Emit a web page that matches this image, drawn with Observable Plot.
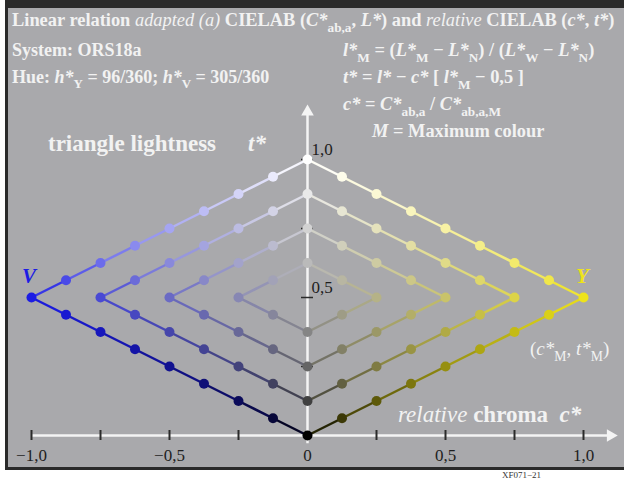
<!DOCTYPE html>
<html>
<head>
<meta charset="utf-8">
<script src="https://cdn.jsdelivr.net/npm/d3@7"></script>
<script src="https://cdn.jsdelivr.net/npm/@observablehq/plot@0.6"></script>
<style>
  html, body { margin: 0; padding: 0; background: #ffffff; }
  #wrap { position: relative; width: 624px; height: 479px; overflow: hidden; }
  #frame { position: absolute; left: 5px; top: 0; width: 619px; height: 470px; box-sizing: border-box;
           background: #a9a9ac; border-top: 8px solid #2a2a2a; border-left: 3px solid #2a2a2a; border-bottom: 3px solid #2a2a2a; }
  #wrap svg { position: absolute; left: 0; top: 0; }
</style>
</head>
<body>
<div id="wrap"><div id="frame"></div></div>
<script>
// ---- data ----
const hueNames = ["V", "Y"];
const hueSigns = [-1, 1];
const hueColors = ["#1c1ce4", "#eee31a"];
const chromaSteps = [0, 0.125, 0.25, 0.375, 0.5, 0.625, 0.75, 0.875, 1];
const diamondChroma = [0.25, 0.5, 0.75, 1];
const xTicks = [-1, -0.75, -0.5, -0.25, 0.25, 0.5, 0.75, 1];
const xLabels = [-1, -0.5, 0, 0.5, 1];
const yTicks = [0.25, 0.5, 0.75, 1];
const yLabels = [0.5, 1];
const xAxisExtent = [-1, 1.105];
const yAxisExtent = [-0.03, 1.18];
const midT = 0.5;

// ---- colours: mix of black, white and maximum colour (gamma-weighted RGB) ----
const G = 1.5;
const maxRgb = hueColors.map(c => d3.rgb(c));
function colourAt(h, c, t) {
  const M = maxRgb[h];
  const w = Math.max(0, t - c / 2);
  const ch = v => 255 * Math.pow(w + c * Math.pow(v / 255, G), 1 / G);
  return d3.rgb(ch(M.r), ch(M.g), ch(M.b)).formatHex();
}

// ---- build points and segments ----
const points = [];
const segs = [];
const seen = new Set();
diamondChroma.forEach(s => {
  hueSigns.forEach((sign, h) => {
    [1, -1].forEach(dir => {
      const edge = chromaSteps.filter(c => c <= s + 1e-9).map(c => {
        const t = midT + dir * (s - c) / 2;
        return {x: sign * c, c, t, h, fill: colourAt(h, c, t)};
      });
      edge.forEach(p => {
        const key = p.x.toFixed(4) + "|" + p.t.toFixed(4);
        if (!seen.has(key)) { seen.add(key); points.push(p); }
      });
      for (let i = 0; i < edge.length - 1; i++) {
        const a = edge[i], b = edge[i + 1];
        segs.push({x1: a.x, y1: a.t, x2: b.x, y2: b.t,
                   stroke: colourAt(h, (a.c + b.c) / 2, (a.t + b.t) / 2)});
      }
    });
  });
});

const fmt = v => v === 0 ? "0" : (v < 0 ? "−" : "") + Math.abs(v).toFixed(1).replace(".", ",");
const serif = "'Liberation Serif', 'Times New Roman', serif";

const svg = Plot.plot({
  width: 624, height: 479, margin: 0,
  x: {domain: [-1, 1], range: [31, 583], axis: null},
  y: {domain: [0, 1], range: [435, 159], axis: null},
  style: {background: "transparent", overflow: "visible"},
  marks: [
    Plot.ruleY([0], {x1: xAxisExtent[0], x2: xAxisExtent[1], stroke: "#f4f4f4", strokeWidth: 2.5}),
    Plot.ruleX([0], {y1: yAxisExtent[0], y2: yAxisExtent[1], stroke: "#f4f4f4", strokeWidth: 2.5}),
    Plot.dot([{x: xAxisExtent[1], y: 0}], {x: "x", y: "y", symbol: "triangle2", rotate: 90, r: 6, fill: "#f4f4f4", dx: -2}),
    Plot.dot([{x: 0, y: yAxisExtent[1]}], {x: "x", y: "y", symbol: "triangle2", r: 6, fill: "#f4f4f4", dy: 2}),
    Plot.ruleX(xTicks, {x: d => d, y1: 0, y2: 0, insetTop: -5, insetBottom: -5, stroke: "#2a2a2a", strokeWidth: 2}),
    Plot.ruleY(yTicks, {y: d => d, x1: 0, x2: 0, insetLeft: -6, insetRight: -6, stroke: "#2a2a2a", strokeWidth: 1.5}),
    Plot.link(segs, {x1: "x1", y1: "y1", x2: "x2", y2: "y2", stroke: "stroke", strokeWidth: 2.5}),
    Plot.dot(points, {x: "x", y: "t", fill: "fill", r: 5}),
    Plot.text(xLabels, {x: d => d, y: 0, text: fmt, dy: 20, fontSize: 17, fill: "#1e1e1e", fontFamily: serif}),
    Plot.text(yLabels, {x: 0, y: d => d, text: fmt, dx: 4, dy: -10, textAnchor: "start", fontSize: 17, fill: "#1e1e1e", fontFamily: serif})
  ]
});
document.getElementById("wrap").appendChild(svg);

// ---- rich text ----
const S = d3.select(svg);
function rich(x, y, parts, {size = 18, fill = "#f2f2f2", weight = "bold", anchor = "start"} = {}) {
  const t = S.append("text").attr("x", x).attr("y", y)
    .attr("font-family", serif)
    .attr("font-size", size).attr("font-weight", weight).attr("fill", fill).attr("text-anchor", anchor);
  let shift = 0;
  for (const p of parts) {
    const [s, f] = Array.isArray(p) ? p : [p, ""];
    const ts = t.append("tspan").text(s);
    if (f.includes("i")) ts.attr("font-style", "italic");
    if (f.includes("n")) ts.attr("font-weight", "normal");
    const target = f.includes("s") ? size * 0.3 : 0;
    if (target !== shift) { ts.attr("dy", target - shift); shift = target; }
    if (f.includes("s")) ts.attr("font-size", size * 0.72);
  }
}
rich(12, 26, ["Linear relation ", ["adapted (a)", "in"], " CIELAB (", ["C*", "i"], ["ab,a", "s"], ", ", ["L*", "i"], ") and ",
  ["relative", "in"], " CIELAB (", ["c*", "i"], ", ", ["t*", "i"], ")"], {size: 18.4});
rich(12, 56, ["System: ORS18a"]);
rich(12, 83, ["Hue: ", ["h*", "i"], ["Y", "s"], " = 96/360; ", ["h*", "i"], ["V", "s"], " = 305/360"]);
rich(343, 56, [["l*", "i"], ["M", "s"], " = (", ["L*", "i"], ["M", "s"], " − ", ["L*", "i"], ["N", "s"], ") / (",
  ["L*", "i"], ["W", "s"], " − ", ["L*", "i"], ["N", "s"], ")"], {size: 18.4});
rich(343, 83, [["t*", "i"], " = ", ["l*", "i"], " − ", ["c*", "i"], " [ ", ["l*", "i"], ["M", "s"], " − 0,5 ]"], {size: 18.4});
rich(343, 110, [["c*", "i"], " = ", ["C*", "i"], ["ab,a", "s"], " / ", ["C*", "i"], ["ab,a,M", "s"]], {size: 18.4});
rich(372, 137, [["M", "i"], " = Maximum colour"], {size: 18.4});
rich(48, 151, ["triangle lightness"], {size: 23});
rich(248, 151, [["t*", "i"]], {size: 23});
rich(398, 422, [["relative", "in"], " chroma  ", ["c*", "i"]], {size: 23});
rich(530, 355, ["(", ["c*", "i"], ["M", "s"], ", ", ["t*", "i"], ["M", "s"], ")"], {size: 19, weight: "normal"});
rich(22, 283, [["V", "i"]], {size: 21, fill: hueColors[0]});
rich(576, 283, [["Y", "i"]], {size: 21, fill: hueColors[1]});
rich(502, 478, ["XF071−21"], {size: 9, fill: "#333", weight: "normal"});
</script>
</body>
</html>
